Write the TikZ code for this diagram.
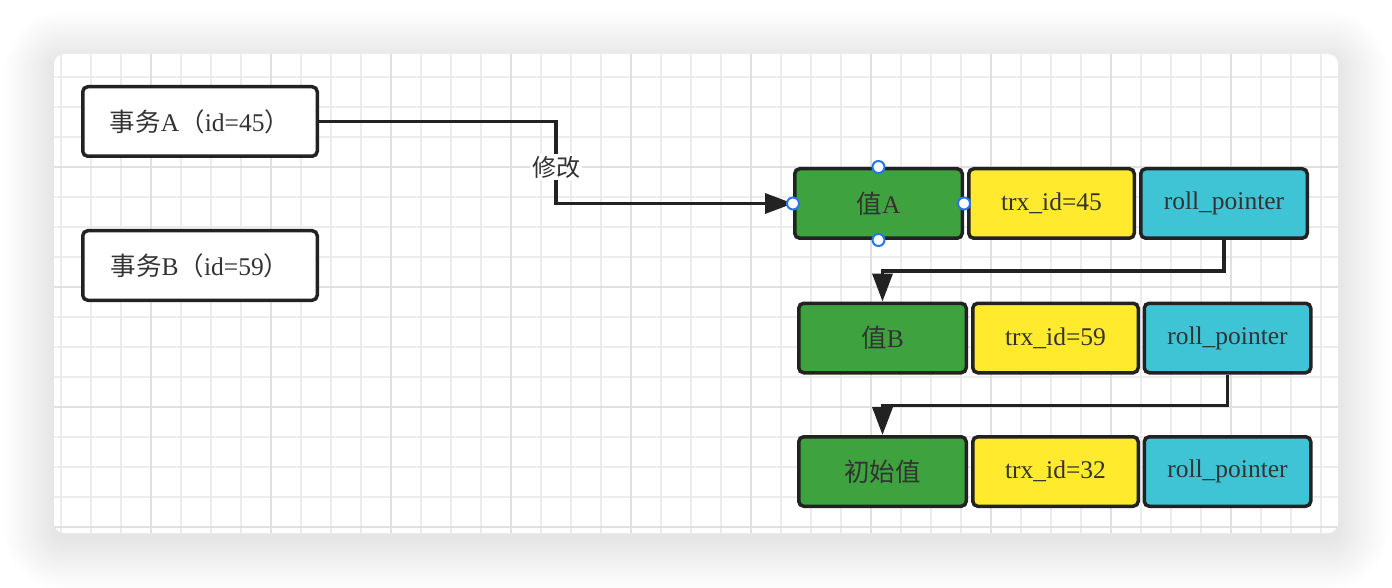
\documentclass[tikz,border=0pt]{standalone}
\usepackage{fontspec}
\setmainfont{Liberation Serif}
\newfontfamily\cjk{Noto Sans CJK SC}
\usetikzlibrary{arrows.meta}

\definecolor{valgreen}{RGB}{62,163,62}
\definecolor{trxyellow}{RGB}{255,234,46}
\definecolor{ptrcyan}{RGB}{63,196,214}
\definecolor{edgegray}{RGB}{34,34,34}
\definecolor{txtgray}{RGB}{51,51,51}
\definecolor{gridminor}{RGB}{236,236,236}
\definecolor{gridmajor}{RGB}{224,224,224}
\definecolor{handleblue}{RGB}{38,118,240}

\begin{document}
\begin{tikzpicture}[x=1pt,y=-1pt,
  box/.style={draw=edgegray, line width=3.5pt, rounded corners=5pt, inner sep=0pt,
    text=txtgray, font=\fontsize{25.5}{30}\selectfont, minimum height=69.5pt},
  txbox/.style={box, fill=white, minimum width=234.5pt},
  valbox/.style={box, fill=valgreen, minimum width=167.5pt},
  trxbox/.style={box, fill=trxyellow, minimum width=165.5pt},
  ptrbox/.style={box, fill=ptrcyan, minimum width=166.5pt},
  conn/.style={draw=edgegray, line width=3.5pt,
    -{Triangle[length=28pt,width=20pt]}},
  lbl/.style={fill=white, inner sep=2pt, text=txtgray, font=\fontsize{24}{28}\selectfont\cjk},
  handle/.style={draw=handleblue, fill=white, line width=2pt}]

\useasboundingbox (0,0) rectangle (1392,588);

% soft drop shadow under the window
\foreach \i in {1,...,25}{
  \pgfmathsetmacro{\rr}{10+2*\i}
  \fill[black, opacity=0.0042, rounded corners=\rr pt]
    (54-2*\i,61-2*\i) rectangle (1338+2*\i,540+2*\i);
}

% window with grid paper
\fill[white, rounded corners=10pt] (54,54) rectangle (1338,533);
\begin{scope}
  \clip[rounded corners=10pt] (54,54) rectangle (1338,533);
  \foreach \x in {61,91,...,1321}
    \draw[gridminor, line width=1.5pt] (\x,54) -- (\x,533);
  \foreach \y in {77,107,...,527}
    \draw[gridminor, line width=1.5pt] (54,\y) -- (1338,\y);
  \foreach \x in {151,271,...,1231}
    \draw[gridmajor, line width=2pt] (\x,54) -- (\x,533);
  \foreach \y in {167,287,407,527}
    \draw[gridmajor, line width=2pt] (54,\y) -- (1338,\y);
\end{scope}

% transactions
\node[txbox] (tA) at (200,121.5) {{\cjk 事务}A{\cjk （}id=45{\cjk ）}};
\node[txbox] (tB) at (200,265.5) {{\cjk 事务}B{\cjk （}id=59{\cjk ）}};

% version chain
\node[valbox] (vA) at (878.5,203.5) {{\cjk 值}A};
\node[trxbox] (xA) at (1051.5,203.5) {trx\_id=45};
\node[ptrbox] (pA) at (1224,203.5) {roll\_pointer};

\node[valbox] (vB) at (882.5,338) {{\cjk 值}B};
\node[trxbox] (xB) at (1055.5,338) {trx\_id=59};
\node[ptrbox] (pB) at (1227.5,338) {roll\_pointer};

\node[valbox] (vC) at (882.5,471.5) {\cjk 初始值};
\node[trxbox] (xC) at (1055.5,471.5) {trx\_id=32};
\node[ptrbox] (pC) at (1227.5,471.5) {roll\_pointer};

% connectors
\coordinate (bend) at (556,167);
\draw[conn] (tA.east) -| (bend) |- (vA.west);
\node[lbl] (mod) at (bend) {修改};

\draw[conn] (pA.south) -- ++(0,31) -| (vB.north);
\draw[conn] (pB.south) -- ++(0,31) -| (vC.north);

% selection handles
\draw[handle] (vA.north) circle (6pt);
\draw[handle] (vA.south) circle (6pt);
\draw[handle] (vA.west) circle (6pt);
\draw[handle] (vA.east) circle (6pt);

\end{tikzpicture}
\end{document}
